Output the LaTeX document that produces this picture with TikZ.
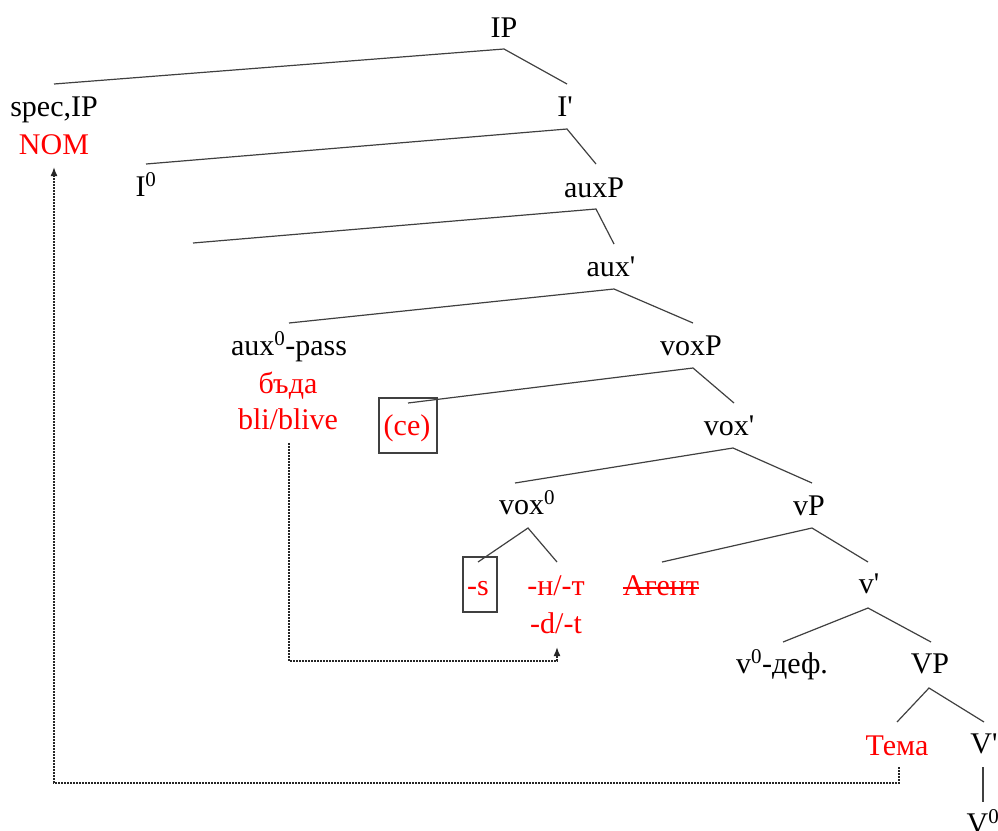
\documentclass[tikz,border=0pt]{standalone}
\usepackage{fontspec}
\setmainfont{Liberation Serif}
\usetikzlibrary{calc,arrows.meta}
\definecolor{txtred}{RGB}{255,0,0}
\definecolor{linegray}{RGB}{64,64,64}
\newcommand{\pr}{\textquotesingle}
\tikzset{
  lbl/.style={anchor=base, inner sep=0pt, font=\fontsize{30}{36}\selectfont},
  rlbl/.style={lbl, text=txtred},
  br/.style={draw=linegray, line width=1.2pt},
  boxln/.style={draw=linegray, line width=1.2pt},
  dotln/.style={draw=black!85, line width=1.6pt, dash pattern=on 1.6pt off 1.4pt,
    -{Latex[length=9pt,width=7pt]}},
}
\begin{document}
\begin{tikzpicture}[x=1pt,y=-1pt]
\useasboundingbox (0,0) rectangle (998,830);
% nodes
\node[lbl] (IP) at (504,37) {IP};
\node[lbl] (spec) at (54,116) {spec,IP};
\node[rlbl] (nom) at (54,154) {NOM};
\node[lbl] (Ibar) at (565,116) {I\pr};
\node[lbl] (I0) at (146,196) {I\textsuperscript{0}};
\node[lbl] (auxP) at (594,197) {auxP};
\coordinate (empty) at (193,243);
\node[lbl] (auxbar) at (611,276) {aux\pr};
\node[lbl] (aux0) at (289,355) {aux\textsuperscript{0}-pass};
\node[rlbl] (bada) at (288,393) {бъда};
\node[rlbl] (bli) at (288,429) {bli/blive};
\node[lbl] (voxP) at (691,355) {voxP};
\node[rlbl] (ce) at (407,435) {(ce)};
\node[lbl] (voxbar) at (729,435) {vox\pr};
\node[lbl] (vox0) at (527,514) {vox\textsuperscript{0}};
\node[lbl] (vP) at (809,515) {vP};
\node[rlbl] (s) at (478,595) {-s};
\node[rlbl] (nt) at (556,595) {-н/-т};
\node[rlbl] (dt) at (556,633) {-d/-t};
\node[rlbl] (agent) at (661,595) {Агент};
\node[lbl] (vbar) at (869,593) {v\pr};
\node[lbl] (v0) at (782,673) {v\textsuperscript{0}-деф.};
\node[lbl] (VP) at (930,673) {VP};
\node[rlbl] (tema) at (897,755) {Тема};
\node[lbl] (Vbar) at (984,753) {V\pr};
\node[lbl] (V0) at (983,833) {V\textsuperscript{0}};
% strike-through
\draw[txtred, line width=1.3pt] ($(agent.base west)+(0,-7)$) -- ($(agent.base east)+(0,-7)$);
% boxes
\draw[boxln] ($(ce.base)+(-28,-37)$) rectangle ($(ce.base)+(30,18)$);
\draw[boxln] ($(s.base)+(-15,-38)$) rectangle ($(s.base)+(19,17)$);
% branches
\draw[br] ($(spec.base)+(0,-32)$) -- ($(IP.base)+(0,12)$) -- ($(Ibar.base)+(2,-32)$);
\draw[br] ($(I0.base)+(0,-32)$) -- ($(Ibar.base)+(2,13)$) -- ($(auxP.base)+(2,-33)$);
\draw[br] (empty) -- ($(auxP.base)+(2,12)$) -- ($(auxbar.base)+(3,-32)$);
\draw[br] ($(aux0.base)+(0,-32)$) -- ($(auxbar.base)+(3,13)$) -- ($(voxP.base)+(2,-32)$);
\draw[br] ($(ce.base)+(1,-32)$) -- ($(voxP.base)+(2,13)$) -- ($(voxbar.base)+(5,-32)$);
\draw[br] ($(vox0.base)+(-12,-31)$) -- ($(voxbar.base)+(4,13)$) -- ($(vP.base)+(3,-32)$);
\draw[br] ($(s.base)+(0,-33)$) -- ($(vox0.base)+(1,14)$) -- ($(nt.base)+(1,-33)$);
\draw[br] ($(agent.base)+(1,-33)$) -- ($(vP.base)+(3,13)$) -- ($(vbar.base)+(-1,-31)$);
\draw[br] ($(v0.base)+(1,-31)$) -- ($(vbar.base)+(-1,15)$) -- ($(VP.base)+(1,-31)$);
\draw[br] ($(tema.base)+(0,-33)$) -- ($(VP.base)+(-1,15)$) -- ($(Vbar.base)+(0,-31)$);
\draw[br] ($(Vbar.base)+(-1,14)$) -- ($(V0.base)+(0,-31)$);
% movement arrows
\draw[dotln] ($(tema.base)+(2,12)$) -- ++(0,16) -| ($(nom.base)+(0,13)$);
\draw[dotln] ($(bli.base)+(1,14)$) -- ++(0,218) -| ($(dt.base)+(1,14)$);
\end{tikzpicture}
\end{document}
